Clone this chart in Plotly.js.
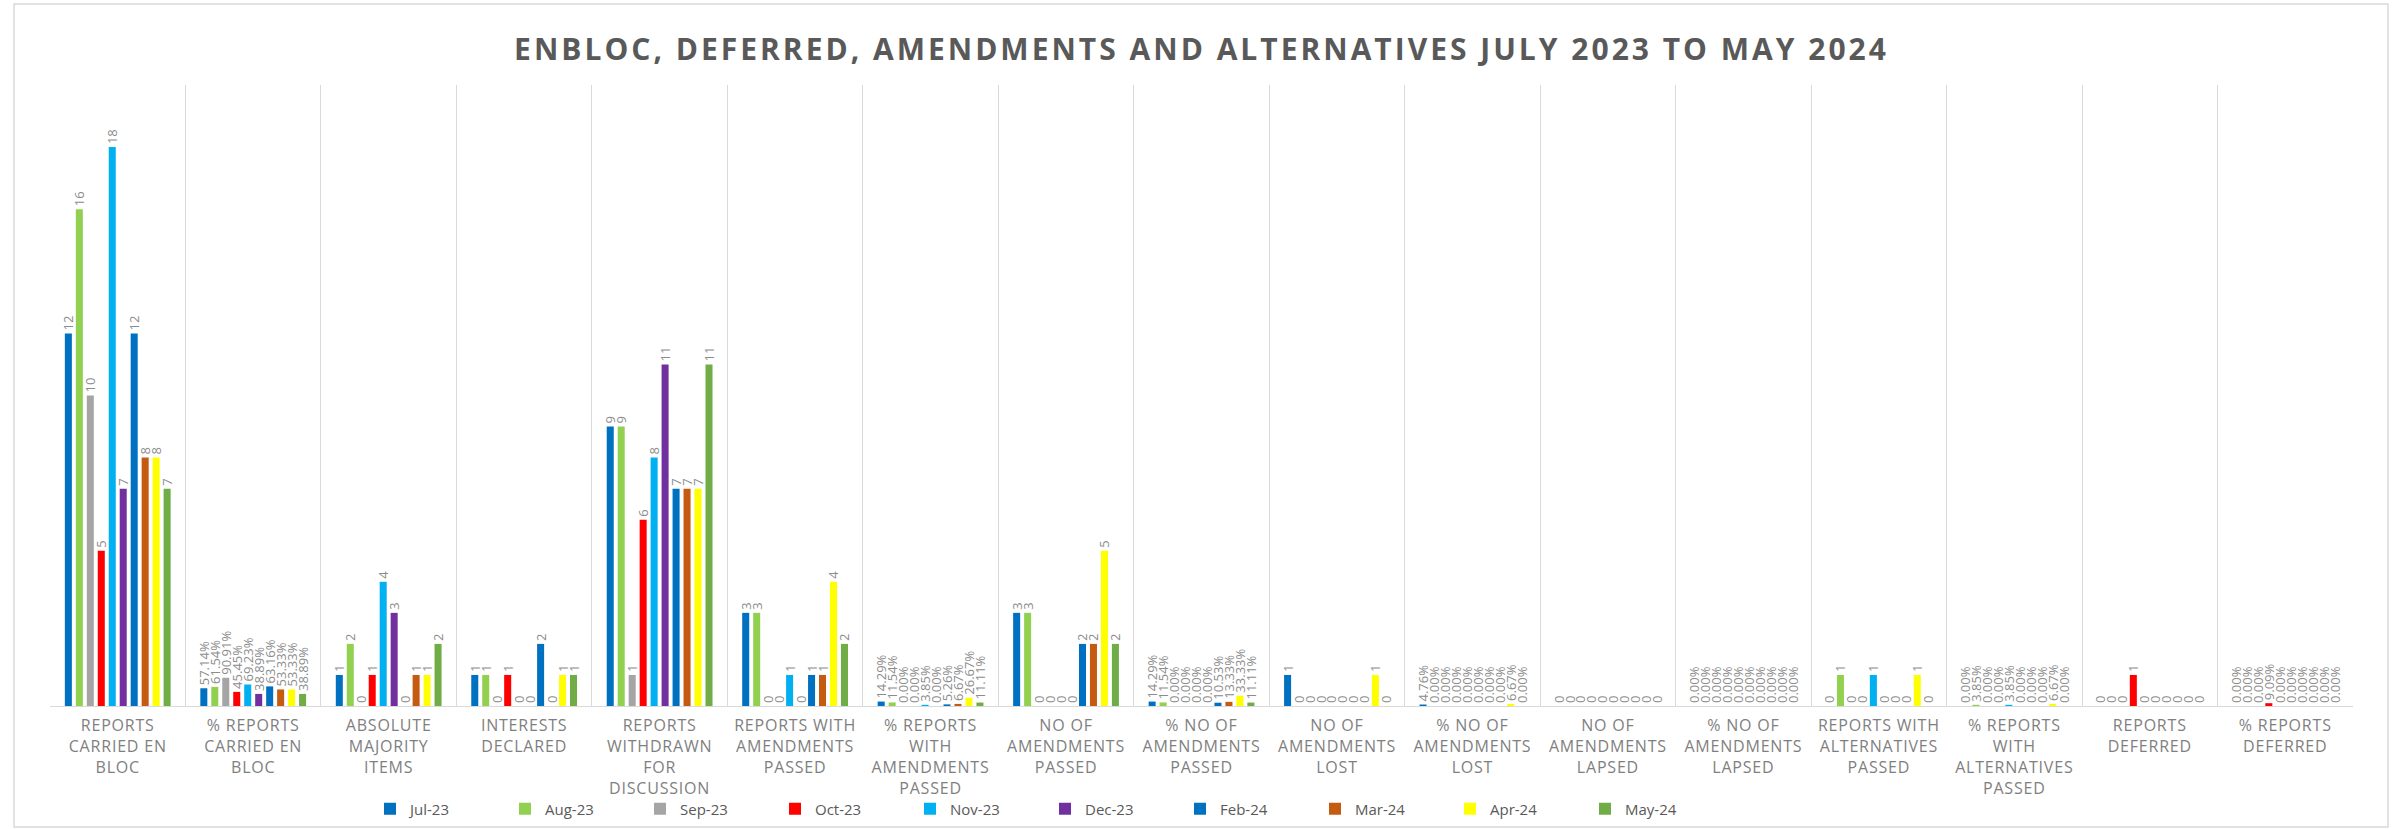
<!DOCTYPE html>
<html>
<head>
<meta charset="utf-8">
<script src="https://cdn.plot.ly/plotly-3.0.1.min.js"></script>
<style>
  html, body { margin: 0; padding: 0; background: #ffffff; }
  #chart { width: 2392px; height: 829px; }
  .gtitle { letter-spacing: 3px; }
  .xtick text { letter-spacing: 0.8px; }
</style>
</head>
<body>
<div id="chart"></div>
<script>
// Categories (x axis labels)
const categories = [
  "REPORTS<br>CARRIED EN<br>BLOC",
  "% REPORTS<br>CARRIED EN<br>BLOC",
  "ABSOLUTE<br>MAJORITY<br>ITEMS",
  "INTERESTS<br>DECLARED",
  "REPORTS<br>WITHDRAWN<br>FOR<br>DISCUSSION",
  "REPORTS WITH<br>AMENDMENTS<br>PASSED",
  "% REPORTS<br>WITH<br>AMENDMENTS<br>PASSED",
  "NO OF<br>AMENDMENTS<br>PASSED",
  "% NO OF<br>AMENDMENTS<br>PASSED",
  "NO OF<br>AMENDMENTS<br>LOST",
  "% NO OF<br>AMENDMENTS<br>LOST",
  "NO OF<br>AMENDMENTS<br>LAPSED",
  "% NO OF<br>AMENDMENTS<br>LAPSED",
  "REPORTS WITH<br>ALTERNATIVES<br>PASSED",
  "% REPORTS<br>WITH<br>ALTERNATIVES<br>PASSED",
  "REPORTS<br>DEFERRED",
  "% REPORTS<br>DEFERRED"
];
// which categories are percentages (shown as xx.xx%)
const isPercent = [false, true, false, false, false, false, true, false, true, false, true, false, true, false, true, false, true];

const seriesNames = ["Jul-23", "Aug-23", "Sep-23", "Oct-23", "Nov-23", "Dec-23", "Feb-24", "Mar-24", "Apr-24", "May-24"];
const seriesColors = ["#0070C0", "#92D050", "#A5A5A5", "#FF0000", "#00B0F0", "#7030A0", "#0070C0", "#C55A11", "#FFFF00", "#70AD47"];

const jul23 = [12, 0.5714, 1, 1, 9, 3, 0.1429, 3, 0.1429, 1, 0.0476, 0, 0, 0, 0, 0, 0];
const aug23 = [16, 0.6154, 2, 1, 9, 3, 0.1154, 3, 0.1154, 0, 0, 0, 0, 1, 0.0385, 0, 0];
const sep23 = [10, 0.9091, 0, 0, 1, 0, 0, 0, 0, 0, 0, 0, 0, 0, 0, 0, 0];
const oct23 = [5, 0.4545, 1, 1, 6, 0, 0, 0, 0, 0, 0, 0, 0, 0, 0, 1, 0.0909];
const nov23 = [18, 0.6923, 4, 0, 8, 1, 0.0385, 0, 0, 0, 0, 0, 0, 1, 0.0385, 0, 0];
const dec23 = [7, 0.3889, 3, 0, 11, 0, 0, 0, 0, 0, 0, 0, 0, 0, 0, 0, 0];
const feb24 = [12, 0.6316, 0, 2, 7, 1, 0.0526, 2, 0.1053, 0, 0, 0, 0, 0, 0, 0, 0];
const mar24 = [8, 0.5333, 1, 0, 7, 1, 0.0667, 2, 0.1333, 0, 0, 0, 0, 0, 0, 0, 0];
const apr24 = [8, 0.5333, 1, 1, 7, 4, 0.2667, 5, 0.3333, 1, 0.0667, 0, 0, 1, 0.0667, 0, 0];
const may24 = [7, 0.3889, 2, 1, 11, 2, 0.1111, 2, 0.1111, 0, 0, 0, 0, 0, 0, 0, 0];

const seriesValues = [jul23, aug23, sep23, oct23, nov23, dec23, feb24, mar24, apr24, may24];

const traces = seriesValues.map((vals, i) => ({
  type: "bar",
  name: seriesNames[i],
  x: categories,
  y: vals,
  marker: { color: seriesColors[i] },
  text: vals.map((v, j) => isPercent[j] ? (v * 100).toFixed(2) + "%" : String(v)),
  textposition: "outside",
  textangle: -90,
  constraintext: "none",
  cliponaxis: false,
  textfont: { family: "Open Sans, sans-serif", size: 13, color: "#8c8c8c" },
  hoverinfo: "none"
}));

// paper-coordinate helpers for the outer chart border
const pl = 50, pr = 2353, pt = 85, pb = 706;
const px = v => (v - pl) / (pr - pl);
const py = v => (pb - v) / (pb - pt);

const layout = {
  width: 2392,
  height: 829,
  paper_bgcolor: "#ffffff",
  plot_bgcolor: "#ffffff",
  margin: { l: pl, r: 2392 - pr, t: pt, b: 829 - pb, autoexpand: false },
  title: {
    text: "<b>ENBLOC, DEFERRED, AMENDMENTS AND ALTERNATIVES JULY 2023 TO MAY 2024</b>",
    font: { family: "Open Sans, sans-serif", size: 30, color: "#595959" },
    x: 0.5, xref: "paper", xanchor: "center",
    y: 1 - 49 / 829, yref: "container", yanchor: "middle"
  },
  barmode: "group",
  bargap: 0.19,
  bargroupgap: 0.36,
  showlegend: true,
  legend: {
    orientation: "h",
    x: px(370), xanchor: "left",
    y: -(809 - pb) / (pb - pt), yanchor: "middle",
    entrywidth: 90, entrywidthmode: "pixels",
    bgcolor: "rgba(0,0,0,0)",
    font: { family: "Open Sans, sans-serif", size: 15, color: "#595959" },
    itemwidth: 30,
    traceorder: "normal"
  },
  xaxis: {
    type: "category",
    tickson: "boundaries",
    showgrid: true,
    gridcolor: "#d9d9d9",
    gridwidth: 1,
    showline: true,
    linecolor: "#d9d9d9",
    linewidth: 1,
    ticks: "",
    tickangle: 0,
    ticklabelstandoff: 5,
    tickfont: { family: "Open Sans, sans-serif", size: 16, color: "#7f7f7f" },
    fixedrange: true
  },
  yaxis: {
    range: [0, 20],
    showgrid: false,
    zeroline: false,
    showticklabels: false,
    showline: false,
    ticks: "",
    fixedrange: true
  },
  shapes: [{
    type: "rect", xref: "paper", yref: "paper",
    x0: px(14), x1: px(2388), y0: py(827), y1: py(4),
    line: { color: "#d9d9d9", width: 1.5 },
    fillcolor: "rgba(0,0,0,0)",
    layer: "below"
  }]
};

Plotly.newPlot("chart", traces, layout, { staticPlot: true, displayModeBar: false });
</script>
</body>
</html>
